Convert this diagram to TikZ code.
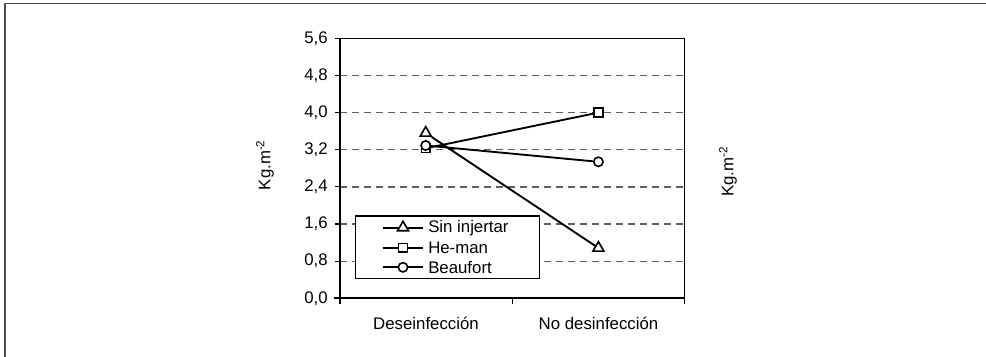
\documentclass[tikz,border=0pt]{standalone}
\usepackage{fontspec}
\setmainfont{Liberation Sans}
\usetikzlibrary{shapes.geometric}
\begin{document}
\begin{tikzpicture}[x=0.75pt,y=-0.75pt,
  lbl/.style={font=\fontsize{12.6}{14}\selectfont, inner sep=0pt},
  grid/.style={gray!75!black, line width=0.9pt, dash pattern=on 5.5pt off 3.5pt},
  dataline/.style={black, line width=1.4pt},
  tri/.style={regular polygon, regular polygon sides=3, draw=black, line width=1.2pt, fill=white, inner sep=0pt, minimum size=9.5pt},
  sq/.style={rectangle, draw=black, line width=1.2pt, fill=white, inner sep=0pt, minimum size=6.5pt},
  circ/.style={circle, draw=black, line width=1.2pt, fill=white, inner sep=0pt, minimum size=7pt}]
\useasboundingbox (0,0) rectangle (986,357);
% outer frame
\draw[gray!60!black, line width=1.3pt] (5,357) -- (5,3.5) -- (986,3.5);
% gridlines
\foreach \yy in {75.4,112.6,149.7,186.9,224.0,261.2}
  \draw[grid] (340,\yy) -- (684.7,\yy);
% plot frame
\draw[black, line width=0.8pt] (340,38.3) -- (684.7,38.3) -- (684.7,298.3);
\draw[black, line width=1.3pt] (340,38.3) -- (340,299);
\draw[black, line width=1.5pt] (334,298.3) -- (684.7,298.3);
% y ticks and labels
\foreach \yy/\t in {38.3/{5,6},75.4/{4,8},112.6/{4,0},149.7/{3,2},186.9/{2,4},224.0/{1,6},261.2/{0,8},298.3/{0,0}} {
  \draw[black, line width=0.8pt] (335,\yy) -- (340,\yy);
  \node[lbl, anchor=east] at (328,\yy) {\t};
}
% x ticks
\foreach \xx in {340,512.7,684.7}
  \draw[black, line width=0.8pt] (\xx,298.3) -- (\xx,304);
\node[lbl] (c1) at (426,323.5) {Deseinfección};
\node[lbl] (c2) at (598.5,323.5) {No desinfección};
% axis titles
\node[lbl, rotate=90] (yl) at (265,165) {Kg.m\textsuperscript{-2}};
\node[lbl, rotate=90] (yr) at (728,171.5) {Kg.m\textsuperscript{-2}};
% data
\node[tri] (t1) at (425.7,133.0) {};
\node[tri] (t2) at (598.4,248.0) {};
\node[sq] (s1) at (425.7,148.3) {};
\node[sq] (s2) at (598.4,112.6) {};
\node[circ] (b1) at (425.7,145.5) {};
\node[circ] (b2) at (598.4,161.8) {};
\draw[dataline] (t1) -- (t2);
\draw[dataline] (s1) -- (s2);
\draw[dataline] (b1) -- (b2);
% legend
\draw[black, line width=0.8pt, fill=white] (355.7,216) rectangle (539.3,278.3);
\coordinate (l1a) at (382.7,228.3); \coordinate (l1b) at (423.3,228.3);
\coordinate (l2a) at (382.7,247.7); \coordinate (l2b) at (423.3,247.7);
\coordinate (l3a) at (382.7,267.3); \coordinate (l3b) at (423.3,267.3);
\draw[dataline] (l1a) -- (l1b);
\draw[dataline] (l2a) -- (l2b);
\draw[dataline] (l3a) -- (l3b);
\node[tri] (lt) at (403,227.6) {};
\node[sq] (ls) at (403,247.7) {};
\node[circ] (lc) at (403,267.3) {};
\node[lbl, anchor=west] (lt1) at (428,228.3) {Sin injertar};
\node[lbl, anchor=west] (lt2) at (428,247.7) {He-man};
\node[lbl, anchor=west] (lt3) at (428,267.3) {Beaufort};
\end{tikzpicture}
\end{document}
